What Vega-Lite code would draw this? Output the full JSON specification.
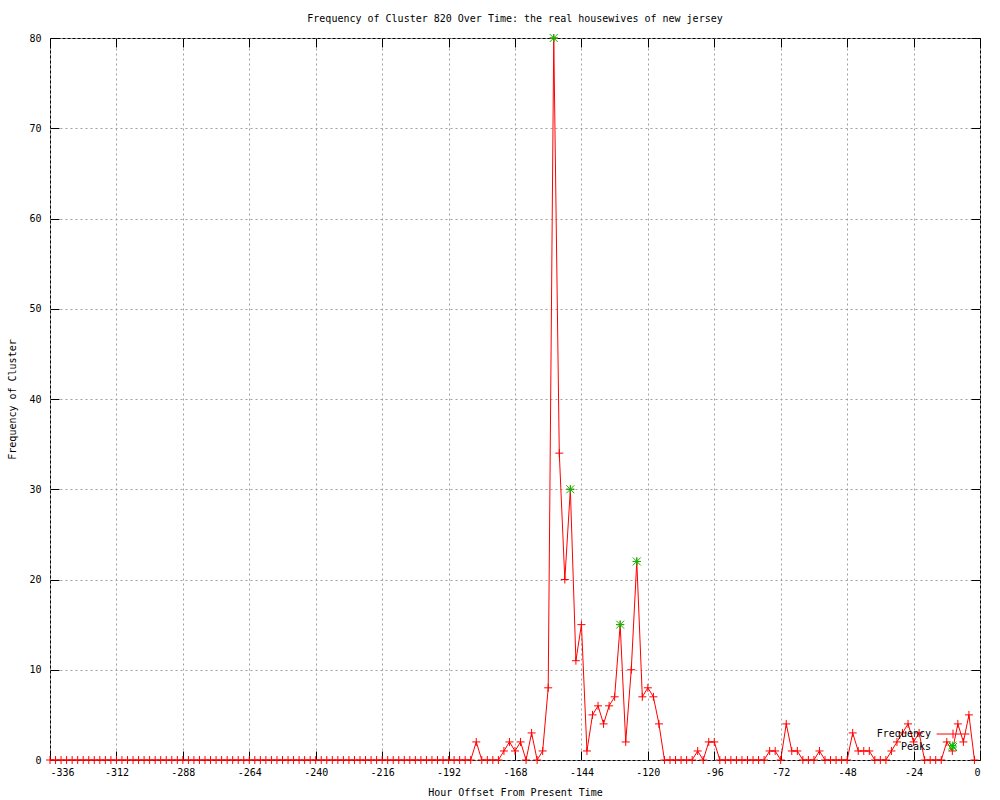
{
  "$schema": "https://vega.github.io/schema/vega-lite/v6.json",
  "width": 930,
  "height": 722,
  "autosize": {"type": "none"},
  "padding": {"left": 50, "top": 38, "right": 20, "bottom": 40},
  "background": "white",
  "title": {"text": "Frequency of Cluster 820 Over Time: the real housewives of new jersey", "font": "DejaVu Sans Mono", "fontSize": 10, "fontWeight": "normal", "color": "black", "offset": 8},
  "config": {
    "view": {"stroke": "black", "strokeWidth": 1},
    "axis": {"labelFont": "DejaVu Sans Mono", "labelFontSize": 10, "labelColor": "black", "titleFont": "DejaVu Sans Mono", "titleFontSize": 10, "titleFontWeight": "normal", "titleColor": "black", "domain": false, "tickColor": "black", "tickSize": -9, "gridColor": "#a0a0a0", "gridDash": [2, 3], "gridWidth": 1, "gridOpacity": 1},
    "legend": {"title": null, "orient": "none", "labelAlign": "right", "labelOffset": -27, "labelFont": "DejaVu Sans Mono", "labelFontSize": 10, "labelColor": "black", "symbolSize": 64, "symbolStrokeWidth": 1, "padding": 0}
  },
  "datasets": {
    "freq": [
      {"hour": -336, "freq": 0}, {"hour": -334, "freq": 0}, {"hour": -332, "freq": 0}, {"hour": -330, "freq": 0}, {"hour": -328, "freq": 0}, {"hour": -326, "freq": 0}, {"hour": -324, "freq": 0}, {"hour": -322, "freq": 0}, {"hour": -320, "freq": 0}, {"hour": -318, "freq": 0},
      {"hour": -316, "freq": 0}, {"hour": -314, "freq": 0}, {"hour": -312, "freq": 0}, {"hour": -310, "freq": 0}, {"hour": -308, "freq": 0}, {"hour": -306, "freq": 0}, {"hour": -304, "freq": 0}, {"hour": -302, "freq": 0}, {"hour": -300, "freq": 0}, {"hour": -298, "freq": 0},
      {"hour": -296, "freq": 0}, {"hour": -294, "freq": 0}, {"hour": -292, "freq": 0}, {"hour": -290, "freq": 0}, {"hour": -288, "freq": 0}, {"hour": -286, "freq": 0}, {"hour": -284, "freq": 0}, {"hour": -282, "freq": 0}, {"hour": -280, "freq": 0}, {"hour": -278, "freq": 0},
      {"hour": -276, "freq": 0}, {"hour": -274, "freq": 0}, {"hour": -272, "freq": 0}, {"hour": -270, "freq": 0}, {"hour": -268, "freq": 0}, {"hour": -266, "freq": 0}, {"hour": -264, "freq": 0}, {"hour": -262, "freq": 0}, {"hour": -260, "freq": 0}, {"hour": -258, "freq": 0},
      {"hour": -256, "freq": 0}, {"hour": -254, "freq": 0}, {"hour": -252, "freq": 0}, {"hour": -250, "freq": 0}, {"hour": -248, "freq": 0}, {"hour": -246, "freq": 0}, {"hour": -244, "freq": 0}, {"hour": -242, "freq": 0}, {"hour": -240, "freq": 0}, {"hour": -238, "freq": 0},
      {"hour": -236, "freq": 0}, {"hour": -234, "freq": 0}, {"hour": -232, "freq": 0}, {"hour": -230, "freq": 0}, {"hour": -228, "freq": 0}, {"hour": -226, "freq": 0}, {"hour": -224, "freq": 0}, {"hour": -222, "freq": 0}, {"hour": -220, "freq": 0}, {"hour": -218, "freq": 0},
      {"hour": -216, "freq": 0}, {"hour": -214, "freq": 0}, {"hour": -212, "freq": 0}, {"hour": -210, "freq": 0}, {"hour": -208, "freq": 0}, {"hour": -206, "freq": 0}, {"hour": -204, "freq": 0}, {"hour": -202, "freq": 0}, {"hour": -200, "freq": 0}, {"hour": -198, "freq": 0},
      {"hour": -196, "freq": 0}, {"hour": -194, "freq": 0}, {"hour": -192, "freq": 0}, {"hour": -190, "freq": 0}, {"hour": -188, "freq": 0}, {"hour": -186, "freq": 0}, {"hour": -184, "freq": 0}, {"hour": -182, "freq": 2}, {"hour": -180, "freq": 0}, {"hour": -178, "freq": 0},
      {"hour": -176, "freq": 0}, {"hour": -174, "freq": 0}, {"hour": -172, "freq": 1}, {"hour": -170, "freq": 2}, {"hour": -168, "freq": 1}, {"hour": -166, "freq": 2}, {"hour": -164, "freq": 0}, {"hour": -162, "freq": 3}, {"hour": -160, "freq": 0}, {"hour": -158, "freq": 1},
      {"hour": -156, "freq": 8}, {"hour": -154, "freq": 80}, {"hour": -152, "freq": 34}, {"hour": -150, "freq": 20}, {"hour": -148, "freq": 30}, {"hour": -146, "freq": 11}, {"hour": -144, "freq": 15}, {"hour": -142, "freq": 1}, {"hour": -140, "freq": 5}, {"hour": -138, "freq": 6},
      {"hour": -136, "freq": 4}, {"hour": -134, "freq": 6}, {"hour": -132, "freq": 7}, {"hour": -130, "freq": 15}, {"hour": -128, "freq": 2}, {"hour": -126, "freq": 10}, {"hour": -124, "freq": 22}, {"hour": -122, "freq": 7}, {"hour": -120, "freq": 8}, {"hour": -118, "freq": 7},
      {"hour": -116, "freq": 4}, {"hour": -114, "freq": 0}, {"hour": -112, "freq": 0}, {"hour": -110, "freq": 0}, {"hour": -108, "freq": 0}, {"hour": -106, "freq": 0}, {"hour": -104, "freq": 0}, {"hour": -102, "freq": 1}, {"hour": -100, "freq": 0}, {"hour": -98, "freq": 2},
      {"hour": -96, "freq": 2}, {"hour": -94, "freq": 0}, {"hour": -92, "freq": 0}, {"hour": -90, "freq": 0}, {"hour": -88, "freq": 0}, {"hour": -86, "freq": 0}, {"hour": -84, "freq": 0}, {"hour": -82, "freq": 0}, {"hour": -80, "freq": 0}, {"hour": -78, "freq": 0},
      {"hour": -76, "freq": 1}, {"hour": -74, "freq": 1}, {"hour": -72, "freq": 0}, {"hour": -70, "freq": 4}, {"hour": -68, "freq": 1}, {"hour": -66, "freq": 1}, {"hour": -64, "freq": 0}, {"hour": -62, "freq": 0}, {"hour": -60, "freq": 0}, {"hour": -58, "freq": 1},
      {"hour": -56, "freq": 0}, {"hour": -54, "freq": 0}, {"hour": -52, "freq": 0}, {"hour": -50, "freq": 0}, {"hour": -48, "freq": 0}, {"hour": -46, "freq": 3}, {"hour": -44, "freq": 1}, {"hour": -42, "freq": 1}, {"hour": -40, "freq": 1}, {"hour": -38, "freq": 0},
      {"hour": -36, "freq": 0}, {"hour": -34, "freq": 0}, {"hour": -32, "freq": 1}, {"hour": -30, "freq": 2}, {"hour": -28, "freq": 3}, {"hour": -26, "freq": 4}, {"hour": -24, "freq": 2}, {"hour": -22, "freq": 3}, {"hour": -20, "freq": 0}, {"hour": -18, "freq": 0},
      {"hour": -16, "freq": 0}, {"hour": -14, "freq": 0}, {"hour": -12, "freq": 2}, {"hour": -10, "freq": 1}, {"hour": -8, "freq": 4}, {"hour": -6, "freq": 2}, {"hour": -4, "freq": 5}, {"hour": -2, "freq": 0}
    ],
    "peaks": [
      {"hour": -154, "freq": 80}, {"hour": -148, "freq": 30}, {"hour": -130, "freq": 15}, {"hour": -124, "freq": 22}, {"hour": -10, "freq": 1.6}
    ]
  },
  "layer": [
    {
      "data": {"name": "freq"},
      "mark": {"type": "line", "color": "#ff0000", "strokeWidth": 1, "interpolate": "linear"},
      "encoding": {
        "x": {"field": "hour", "type": "quantitative", "scale": {"domain": [-336, 0], "nice": false, "zero": false},
          "axis": {"orient": "bottom", "values": [-336, -312, -288, -264, -240, -216, -192, -168, -144, -120, -96, -72, -48, -24, 0], "labelExpr": "'' + datum.value", "labelPadding": 16, "title": "Hour Offset From Present Time", "titlePadding": 10, "grid": true}},
        "y": {"field": "freq", "type": "quantitative", "scale": {"domain": [0, 80], "nice": false},
          "axis": {"orient": "left", "values": [0, 10, 20, 30, 40, 50, 60, 70, 80], "labelExpr": "'' + datum.value", "labelPadding": 18, "title": "Frequency of Cluster", "titlePadding": 11, "grid": true}}
      }
    },
    {
      "data": {"name": "freq"},
      "mark": {"type": "point", "filled": false, "strokeWidth": 1, "size": 64, "opacity": 1, "shape": "M-1,0H1M0,-1V1"},
      "encoding": {
        "x": {"field": "hour", "type": "quantitative", "axis": {"orient": "top", "values": [-336, -312, -288, -264, -240, -216, -192, -168, -144, -120, -96, -72, -48, -24, 0], "labels": false, "title": null, "grid": false}},
        "y": {"field": "freq", "type": "quantitative", "axis": {"orient": "right", "values": [0, 10, 20, 30, 40, 50, 60, 70, 80], "labels": false, "title": null, "grid": false}},
        "color": {"datum": "Frequency", "type": "nominal", "scale": {"domain": ["Frequency"], "range": ["#ff0000"]},
          "legend": {"legendX": 898, "legendY": 691, "symbolType": "M-4.1,0H4.1M0,-1.1V1.1"}}
      }
    },
    {
      "data": {"name": "peaks"},
      "mark": {"type": "point", "filled": false, "strokeWidth": 1, "size": 64, "opacity": 1, "shape": "M-1,0H1M0,-1V1M-1,-1L1,1M-1,1L1,-1"},
      "encoding": {
        "x": {"field": "hour", "type": "quantitative", "axis": null},
        "y": {"field": "freq", "type": "quantitative", "axis": null},
        "color": {"datum": "Peaks", "type": "nominal", "scale": {"domain": ["Peaks"], "range": ["#00c000"]},
          "legend": {"legendX": 898, "legendY": 704, "symbolType": "M-1,0H1M0,-1V1M-1,-1L1,1M-1,1L1,-1"}}
      }
    }
  ],
  "resolve": {"axis": {"x": "independent", "y": "independent"}, "scale": {"color": "independent"}, "legend": {"color": "independent"}}
}
